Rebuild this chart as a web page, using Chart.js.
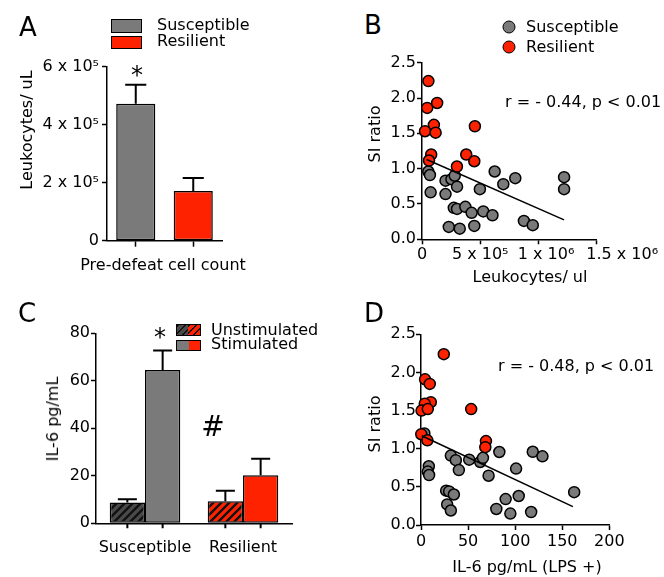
<!DOCTYPE html>
<html>
<head>
<meta charset="utf-8">
<script src="https://cdn.jsdelivr.net/npm/chart.js@4.4.1/dist/chart.umd.min.js"></script>
<style>
  html, body { margin: 0; padding: 0; background: #fff; }
  #wrap { position: relative; width: 664px; height: 577px; overflow: hidden; }
  canvas { position: absolute; }
  .t { position: absolute; font-family: "DejaVu Sans", sans-serif; font-size: 16px; line-height: 1; white-space: nowrap; color: #000; z-index: 2; }
  .c { transform: translate(-50%, -50%); }
  .l { transform: translate(0, -50%); }
  .rot { transform: translate(-50%, -50%) rotate(-90deg); }
  .panel { font-size: 26px; }
  .box { position: absolute; box-sizing: border-box; border: 1.5px solid #000; z-index: 2; }
  .dot { position: absolute; box-sizing: border-box; width: 13px; height: 13px; border-radius: 50%; border: 1.5px solid #000; transform: translate(-50%, -50%); z-index: 2; }
</style>
</head>
<body>
<div id="wrap">
  <canvas id="chartA" width="330" height="240" style="left:0;top:40px"></canvas>
  <canvas id="chartB" width="334" height="250" style="left:330px;top:40px"></canvas>
  <canvas id="chartC" width="330" height="277" style="left:0;top:300px"></canvas>
  <canvas id="chartD" width="334" height="277" style="left:330px;top:300px"></canvas>

  <!-- panel letters -->
  <div class="t c panel" style="left:28px;top:27px">A</div>
  <div class="t c panel" style="left:373px;top:25px">B</div>
  <div class="t c panel" style="left:27px;top:313px">C</div>
  <div class="t c panel" style="left:374px;top:313px">D</div>

  <!-- A legend + labels -->
  <div class="box" style="left:111px;top:19px;width:31px;height:14px;background:#7a7a7a"></div>
  <div class="box" style="left:111px;top:36px;width:31px;height:13px;background:#ff2200"></div>
  <div class="t l" style="left:157px;top:25px">Susceptible</div>
  <div class="t l" style="left:157px;top:41px">Resilient</div>
  <div class="t c" style="left:137px;top:75px;font-size:24px">*</div>
  <div class="t rot" style="left:27px;top:130px">Leukocytes/ uL</div>
  <div class="t c" style="left:163px;top:265px">Pre-defeat cell count</div>

  <!-- B legend + labels -->
  <div class="dot" style="left:509px;top:27px;background:#7a7a7a"></div>
  <div class="dot" style="left:509px;top:47px;background:#ff2200"></div>
  <div class="t l" style="left:526px;top:27px">Susceptible</div>
  <div class="t l" style="left:526px;top:47px">Resilient</div>
  <div class="t l" style="left:505px;top:102px">r = - 0.44, p &lt; 0.01</div>
  <div class="t rot" style="left:375px;top:134px">SI ratio</div>
  <div class="t c" style="left:530px;top:277px">Leukocytes/ ul</div>

  <!-- C legend + labels -->
  <div class="box" style="left:176px;top:324px;width:25px;height:12px;background:repeating-linear-gradient(135deg,#111 0 2px,#4a4a4a 2px 5px)"></div>
  <div class="box" style="left:188px;top:324px;width:13px;height:12px;border-left:none;background:repeating-linear-gradient(135deg,#111 0 2px,#ff2200 2px 5px)"></div>
  <div class="box" style="left:176px;top:340px;width:25px;height:11px;background:linear-gradient(90deg,#7a7a7a 50%,#ff2200 50%)"></div>
  <div class="t l" style="left:211px;top:330px">Unstimulated</div>
  <div class="t l" style="left:211px;top:344px">Stimulated</div>
  <div class="t c" style="left:160px;top:337px;font-size:24px">*</div>
  <div class="t c" style="left:213px;top:427px;font-size:28px">#</div>
  <div class="t rot" style="left:53px;top:419px">IL-6 pg/mL</div>

  <!-- D labels -->
  <div class="t l" style="left:498px;top:366px">r = - 0.48, p &lt; 0.01</div>
  <div class="t rot" style="left:375px;top:424px">SI ratio</div>
  <div class="t c" style="left:527px;top:567px">IL-6 pg/mL (LPS +)</div>
</div>

<script>
// Colours
const GRAY = "#7a7a7a";
const RED = "#ff2200";

// Panel A: leukocyte counts
const groupsA = ["Susceptible", "Resilient"];
const leukoMean = [4.72e5, 1.71e5];
const leukoSem = [0.66e5, 0.45e5];
const yTicksA = ["0", "2 x 10⁵", "4 x 10⁵", "6 x 10⁵"];

// Panel B: SI ratio vs leukocytes
const suscLeuko = [0.54e5, 0.68e5, 0.74e5, 2.02e5, 2.53e5, 2.81e5, 3.01e5, 2.02e5, 2.73e5, 3.01e5, 3.72e5, 4.26e5, 2.3e5,
  3.24e5, 4.49e5, 4.97e5, 6.24e5, 6.98e5, 8.01e5, 5.26e5, 6.05e5, 8.75e5, 9.51e5, 12.2e5, 12.2e5];
const suscSiB = [0.96, 0.91, 0.665, 0.83, 0.85, 0.9, 0.745, 0.64, 0.445, 0.43, 0.46, 0.375, 0.175,
  0.15, 0.19, 0.71, 0.96, 0.78, 0.865, 0.395, 0.34, 0.26, 0.2, 0.88, 0.71];
const resLeuko = [0.55e5, 0.45e5, 1.3e5, 0.26e5, 1.02e5, 1.17e5, 0.79e5, 0.6e5, 3.0e5, 4.54e5, 3.8e5, 4.49e5];
const resSiB = [2.24, 1.86, 1.93, 1.53, 1.62, 1.51, 1.2, 1.115, 1.03, 1.6, 1.2, 1.105];
const fitBx = [0.4e5, 12.2e5];
const fitBy = [1.13, 0.275];
// the last two labels sit to the right of their ticks in the original
const xTicksB = ["0", "5 x 10⁵", "   1 x 10⁶", "          1.5 x 10⁶"];

// Panel C: IL-6
const groupsC = ["Susceptible", "Resilient"];
const il6Unstim = [8.8, 9.3];
const il6UnstimSem = [1.3, 4.4];
const il6Stim = [64.5, 20.2];
const il6StimSem = [8.3, 7.0];

// Panel D: SI ratio vs IL-6 (LPS +)
const suscIl6 = [3.6, 8.3, 7.2, 8.6, 31.7, 37, 40.2, 51.2, 62.9, 65.8, 71.8, 83.2, 101, 118.7, 129, 162.7,
  26.7, 29.9, 34.9, 27.8, 31.7, 80, 89.9, 94.9, 103.8, 117];
const suscSiD = [1.2, 0.77, 0.7, 0.655, 0.91, 0.85, 0.72, 0.856, 0.826, 0.88, 0.646, 0.957, 0.74, 0.96, 0.9, 0.43,
  0.45, 0.44, 0.4, 0.27, 0.19, 0.21, 0.34, 0.15, 0.38, 0.17];
const resIl6 = [24.2, 4.3, 9.3, 10.4, 4.0, 0.6, 7.2, 53.3, 0.3, 6.8, 69, 68.3];
const resSiD = [2.24, 1.91, 1.85, 1.61, 1.59, 1.5, 1.52, 1.52, 1.19, 1.11, 1.1, 1.02];
const fitDx = [0.8, 161.3];
const fitDy = [1.17, 0.24];

// Utilities
Chart.defaults.font.family = "'DejaVu Sans', sans-serif";
Chart.defaults.font.size = 16;
Chart.defaults.color = "#000";

const pts = (xs, ys) => xs.map((x, i) => ({ x, y: ys[i] }));
const fixW = (w) => (s) => { s.width = w; s.paddingTop = 0; s.paddingBottom = 0; };
const fixH = (h) => (s) => { s.height = h; s.paddingLeft = 0; s.paddingRight = 0; };

function hatch(base) {
  const c = document.createElement("canvas");
  c.width = c.height = 8;
  const g = c.getContext("2d");
  g.fillStyle = base;
  g.fillRect(0, 0, 8, 8);
  g.strokeStyle = "#111";
  g.lineWidth = 2.4;
  g.beginPath();
  g.moveTo(0, 8); g.lineTo(8, 0);
  g.moveTo(-2, 2); g.lineTo(2, -2);
  g.moveTo(6, 10); g.lineTo(10, 6);
  g.stroke();
  return g.createPattern(c, "repeat");
}

// shared axis look, merged one level deep
function axis(extra) {
  const base = {
    border: { display: true, color: "#000", width: 1.5 },
    grid: { display: true, drawOnChartArea: false, drawTicks: true, tickLength: 5, tickWidth: 1.5, color: "#000", tickColor: "#000" },
    ticks: { color: "#000", padding: 2, maxRotation: 0, minRotation: 0, autoSkip: false },
  };
  return Object.assign({}, base, extra, {
    grid: Object.assign({}, base.grid, extra.grid),
    ticks: Object.assign({}, base.ticks, extra.ticks),
  });
}

// error bars (upward only) + optional tick under each bar
const errorBars = {
  id: "errorBars",
  afterDatasetsDraw(chart, args, opts) {
    const ctx = chart.ctx;
    const y = chart.scales.y;
    ctx.save();
    ctx.strokeStyle = "#000";
    ctx.lineWidth = 2;
    chart.data.datasets.forEach((ds, i) => {
      if (!ds.errors) return;
      chart.getDatasetMeta(i).data.forEach((bar, j) => {
        const top = y.getPixelForValue(ds.data[j] + ds.errors[j]);
        const half = bar.width * 0.27;
        ctx.beginPath();
        ctx.moveTo(bar.x, bar.y);
        ctx.lineTo(bar.x, top);
        ctx.moveTo(bar.x - half, top);
        ctx.lineTo(bar.x + half, top);
        if (opts.barTicks) {
          ctx.moveTo(bar.x, y.bottom);
          ctx.lineTo(bar.x, y.bottom + 5);
        }
        ctx.stroke();
      });
    });
    ctx.restore();
  },
};

const baseOpts = {
  responsive: false,
  animation: false,
  events: [],
  plugins: { legend: { display: false }, tooltip: { enabled: false } },
};

// Panel A
new Chart(document.getElementById("chartA"), {
  type: "bar",
  data: {
    labels: groupsA,
    datasets: [{
      data: leukoMean,
      errors: leukoSem,
      backgroundColor: [GRAY, RED],
      borderColor: "#000",
      borderWidth: 1.5,
      borderSkipped: false,
      barPercentage: 0.68,
      categoryPercentage: 1,
    }],
  },
  options: Object.assign({}, baseOpts, {
    layout: { padding: { top: 26.7, right: 108, left: 0, bottom: 0 } },
    scales: {
      x: axis({ grid: { offset: false, tickLength: 6 }, ticks: { callback: () => "" }, afterFit: fixH(39.3) }),
      y: axis({ min: 0, max: 6e5, ticks: { stepSize: 2e5, padding: 3, callback: (v, i) => yTicksA[i] }, afterFit: fixW(107) }),
    },
  }),
  plugins: [errorBars],
});

// Panel B
new Chart(document.getElementById("chartB"), {
  type: "scatter",
  data: {
    datasets: [
      { type: "line", data: pts(fitBx, fitBy), borderColor: "#000", borderWidth: 1.5, pointRadius: 0, order: 0 },
      { data: pts(resLeuko, resSiB), backgroundColor: RED, borderColor: "#000", borderWidth: 1.5, pointRadius: 5.5, order: 1, clip: false },
      { data: pts(suscLeuko, suscSiB), backgroundColor: GRAY, borderColor: "#000", borderWidth: 1.5, pointRadius: 5.5, order: 2, clip: false },
    ],
  },
  options: Object.assign({}, baseOpts, {
    layout: { padding: { top: 22.7, right: 67.3, left: 0, bottom: 0 } },
    scales: {
      x: axis({ type: "linear", min: 0, max: 1.5e6, ticks: { stepSize: 5e5, padding: 1, callback: (v, i) => xTicksB[i] }, afterFit: fixH(50.7) }),
      y: axis({ min: 0, max: 2.5, ticks: { stepSize: 0.5, padding: 1, callback: (v) => v.toFixed(1) }, afterFit: fixW(92) }),
    },
  }),
});

// Panel C
new Chart(document.getElementById("chartC"), {
  type: "bar",
  data: {
    labels: groupsC,
    datasets: [
      { label: "Unstimulated", data: il6Unstim, errors: il6UnstimSem, backgroundColor: [hatch("#4a4a4a"), hatch(RED)],
        borderColor: "#000", borderWidth: 1.5, borderSkipped: false, barPercentage: 1, categoryPercentage: 0.72 },
      { label: "Stimulated", data: il6Stim, errors: il6StimSem, backgroundColor: [GRAY, RED],
        borderColor: "#000", borderWidth: 1.5, borderSkipped: false, barPercentage: 1, categoryPercentage: 0.72 },
    ],
  },
  options: Object.assign({}, baseOpts, {
    layout: { padding: { top: 33.3, right: 38, left: 0, bottom: 0 } },
    plugins: Object.assign({}, baseOpts.plugins, { errorBars: { barTicks: true } }),
    scales: {
      x: axis({ grid: { display: false }, ticks: { padding: 10 }, afterFit: fixH(53.7) }),
      y: axis({ min: 0, max: 80, ticks: { stepSize: 20, padding: 1 }, afterFit: fixW(96) }),
    },
  }),
  plugins: [errorBars],
});

// Panel D
new Chart(document.getElementById("chartD"), {
  type: "scatter",
  data: {
    datasets: [
      { type: "line", data: pts(fitDx, fitDy), borderColor: "#000", borderWidth: 1.5, pointRadius: 0, order: 0 },
      { data: pts(resIl6, resSiD), backgroundColor: RED, borderColor: "#000", borderWidth: 1.5, pointRadius: 5.5, order: 1, clip: false },
      { data: pts(suscIl6, suscSiD), backgroundColor: GRAY, borderColor: "#000", borderWidth: 1.5, pointRadius: 5.5, order: 2, clip: false },
    ],
  },
  options: Object.assign({}, baseOpts, {
    layout: { padding: { top: 34.3, right: 54.7, left: 0, bottom: 0 } },
    scales: {
      x: axis({ type: "linear", min: 0, max: 200, ticks: { stepSize: 50, padding: 2 }, afterFit: fixH(52) }),
      y: axis({ min: 0, max: 2.5, ticks: { stepSize: 0.5, padding: 0, callback: (v) => v.toFixed(1) }, afterFit: fixW(91) }),
    },
  }),
});
</script>
</body>
</html>
